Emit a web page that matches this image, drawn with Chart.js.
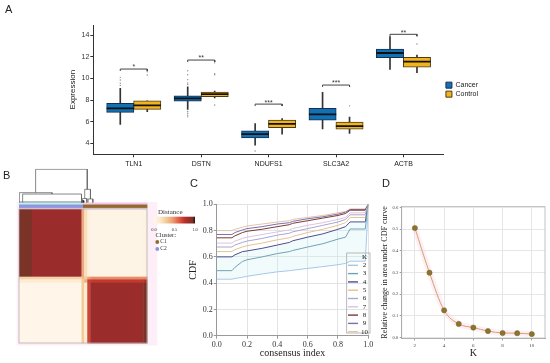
<!DOCTYPE html>
<html><head><meta charset="utf-8">
<script src="https://cdn.jsdelivr.net/npm/chart.js@4.4.1/dist/chart.umd.min.js"></script>
<style>
html,body{margin:0;padding:0;background:#fff;width:550px;height:363px;overflow:hidden;position:relative}
.cv{position:absolute}
.lbl{position:absolute;font-family:'Liberation Sans',Arial,sans-serif;font-size:11px;color:#222;line-height:1}
</style></head><body>
<canvas id="cB" class="cv" style="left:0;top:160px;width:210px;height:190px" width="210" height="190"></canvas>
<canvas id="cA" class="cv" style="left:0;top:0;width:550px;height:175px" width="550" height="175"></canvas>
<canvas id="cC" class="cv" style="left:180px;top:195px;width:195px;height:168px" width="195" height="168"></canvas>
<canvas id="cD" class="cv" style="left:372px;top:195px;width:178px;height:168px" width="178" height="168"></canvas>
<div class="lbl" style="left:5px;top:4px">A</div>
<div class="lbl" style="left:3px;top:170px">B</div>
<div class="lbl" style="left:190px;top:178px">C</div>
<div class="lbl" style="left:382px;top:178px">D</div>
<script>
// ---------- Panel A data ----------
const genes = ['TLN1','DSTN','NDUFS1','SLC3A2','ACTB'];
const cancerLow  = [5.76, 7.15, 3.84, 5.35, 10.85];
const cancerQ1   = [6.87, 7.92, 4.52, 6.16, 11.93];
const cancerMed  = [7.24, 8.17, 4.86, 6.69, 12.36];
const cancerQ3   = [7.70, 8.41, 5.17, 7.24, 12.73];
const cancerHigh = [9.09, 9.24, 5.85, 8.72, 13.87];
const controlLow  = [6.93, 8.20, 4.86, 4.92, 10.54];
const controlQ1   = [7.15, 8.32, 5.45, 5.32, 11.06];
const controlMed  = [7.52, 8.57, 5.82, 5.60, 11.56];
const controlQ3   = [7.95, 8.75, 6.16, 5.97, 11.96];
const controlHigh = [7.95, 8.85, 6.31, 6.44, 12.17];
const cancerOutliers  = [[10.11, 9.86, 9.56, 9.37], [10.72, 10.35, 9.9, 9.6, 9.45, 6.95, 6.8, 6.62, 6.46], [3.31], [], []];
const controlOutliers = [[10.63, 10.33], [11.6, 11.45, 10.45, 10.35, 7.55], [], [7.48], [13.2]];
const sigY = [10.88, 11.71, 7.64, 9.40, 14.09];
const sigLabels = ['*','**','***','***','**'];
const yTicksA = [4, 6, 8, 10, 12, 14];

// ---------- Panel B data ----------
const clusterNames = ['C1','C2'];
const colBreaks = [0, 6, 29.3, 30.5, 32, 33.5, 58.2, 60];
const rowBreaks = [0, 30.3, 31.5, 33, 60];
const heatValues = [
  [0.93, 0.86, 0.42, 0.20, 0.06, 0.03, 0.05],
  [0.25, 0.25, 0.35, 0.30, 0.45, 0.50, 0.50],
  [0.12, 0.12, 0.30, 0.40, 0.70, 0.72, 0.75],
  [0.02, 0.02, 0.30, 0.12, 0.68, 0.86, 0.93]
];
const clusterSplit = 30;
const dendroX1 = [7.8, 0.15, 1.7, 0.15, 30.8, 29.8, 32.4, 29.4, 29.6];
const dendroX2 = [32, 15.5, 29.3, 29.3, 33.5, 31.8, 34.6, 30.2, 30.4];
const dendroH  = [14.9, 4.4, 3.8, 0.25, 5.9, 1.8, 1.6, 0.8, 0.5];
const dendroHL = [4.4, 0, 0, 0, 1.8, 0, 0, 0, 0];
const dendroHR = [5.9, 3.8, 0, 0, 1.6, 0, 0, 0, 0];
const distTicks = [0, 0.5, 1];

// ---------- Panel C data ----------
const cdfX  = [0, 0.1, 0.12, 0.17, 0.2, 0.3, 0.4, 0.48, 0.5, 0.6, 0.7, 0.8, 0.85, 0.88, 0.98, 1.0];
const cdfK2 = [0.43,0.43,0.435,0.445,0.452,0.47,0.486,0.495,0.498,0.512,0.526,0.54,0.55,0.567,0.567,1.0];
const cdfK3 = [0.495,0.495,0.52,0.565,0.578,0.60,0.625,0.64,0.648,0.675,0.70,0.735,0.75,0.812,0.812,1.0];
const cdfK4 = [0.60,0.60,0.615,0.64,0.645,0.665,0.69,0.71,0.722,0.75,0.775,0.81,0.83,0.866,0.866,1.0];
const cdfK5 = [0.64,0.64,0.655,0.675,0.685,0.705,0.73,0.745,0.755,0.785,0.81,0.84,0.86,0.90,0.90,1.0];
const cdfK6 = [0.675,0.675,0.69,0.71,0.72,0.74,0.765,0.78,0.79,0.815,0.84,0.865,0.885,0.92,0.92,1.0];
const cdfK7 = [0.705,0.705,0.72,0.74,0.75,0.77,0.79,0.805,0.815,0.84,0.86,0.885,0.90,0.935,0.935,1.0];
const cdfK8 = [0.745,0.745,0.76,0.785,0.795,0.81,0.83,0.845,0.855,0.875,0.895,0.915,0.93,0.955,0.955,1.0];
const cdfK9 = [0.77,0.77,0.785,0.805,0.815,0.83,0.85,0.86,0.87,0.89,0.905,0.925,0.94,0.96,0.96,1.0];
const cdfK10= [0.80,0.80,0.81,0.825,0.835,0.85,0.865,0.875,0.885,0.90,0.915,0.935,0.945,0.965,0.965,1.0];
const kLabels = ['2','3','4','5','6','7','8','9','10'];

// ---------- Panel D data ----------
const kValues = [2, 3, 4, 5, 6, 7, 8, 9, 10];
const deltaArea = [0.506, 0.299, 0.125, 0.062, 0.045, 0.029, 0.020, 0.019, 0.015];
const yTicksD = [0, 0.1, 0.2, 0.3, 0.4, 0.5, 0.6];
const xTicksD = [2, 4, 6, 8, 10];

// ======================================================
const SANS = "'Liberation Sans', Arial, sans-serif";
const SERIF = "'Liberation Serif', 'Times New Roman', serif";
Chart.defaults.font.family = SANS;

// ---------------- Chart A ----------------
const OFF = 0.2;
const BOXW = 27.3;
const blue = '#1270b5', blueEdge = '#14304e', gold = '#f2b41e', goldEdge = '#4e3c10';
const whisk = [];
genes.forEach((g, i) => {
  whisk.push({x: i + 1 - OFF, y: [cancerLow[i], cancerHigh[i]]});
  whisk.push({x: i + 1 + OFF, y: [controlLow[i], controlHigh[i]]});
});
const outPts = [];
genes.forEach((g, i) => {
  cancerOutliers[i].forEach(v => outPts.push({x: i + 1 - OFF, y: v}));
  controlOutliers[i].forEach(v => outPts.push({x: i + 1 + OFF, y: v}));
});
const medPts = [];
genes.forEach((g, i) => {
  medPts.push({x: i + 1 - OFF, y: cancerMed[i]});
  medPts.push({x: i + 1 + OFF, y: controlMed[i]});
});
const dsA = [
  {type:'bar', label:'Cancer', order:4, grouped:false, barThickness:BOXW, borderSkipped:false,
   backgroundColor:blue, borderColor:blueEdge, borderWidth:1,
   data: genes.map((g,i)=>({x:i+1-OFF, y:[cancerQ1[i], cancerQ3[i]]}))},
  {type:'bar', label:'Control', order:4, grouped:false, barThickness:BOXW, borderSkipped:false,
   backgroundColor:gold, borderColor:goldEdge, borderWidth:1,
   data: genes.map((g,i)=>({x:i+1+OFF, y:[controlQ1[i], controlQ3[i]]}))},
  {type:'bar', label:'whisker', order:6, grouped:false, barThickness:1, borderWidth:0,
   backgroundColor:'#333', data: whisk},
  {type:'scatter', label:'median', order:3, data: medPts, pointStyle:'line',
   pointRadius: BOXW/2, pointBorderWidth:1.8, pointBorderColor:'#111', pointBackgroundColor:'#111'},
  {type:'scatter', label:'outlier', order:2, data: outPts, pointRadius:0.7,
   pointBackgroundColor:'#8a8a8a', pointBorderWidth:0}
];
sigY.forEach((y, i) => {
  dsA.push({type:'scatter', label:'sig', order:1, showLine:true, borderColor:'#444', borderWidth:1,
    pointRadius:0, data:[{x:i+1-OFF,y:y-0.18},{x:i+1-OFF,y:y},{x:i+1+OFF,y:y},{x:i+1+OFF,y:y-0.18}]});
});
const sigPlugin = {
  id:'sig',
  afterDatasetsDraw(chart){
    const {ctx, scales:{x, y}} = chart;
    ctx.save();
    ctx.font = '7px ' + SANS; ctx.fillStyle = '#333';
    ctx.textAlign = 'center'; ctx.textBaseline = 'bottom';
    sigLabels.forEach((s, i) => ctx.fillText(s, x.getPixelForValue(i+1), y.getPixelForValue(sigY[i]) + 2));
    ctx.restore();
  }
};
new Chart(document.getElementById('cA'), {
  type:'bar',
  data:{datasets: dsA},
  plugins:[sigPlugin],
  options:{
    responsive:false, animation:false, devicePixelRatio:1,
    layout:{padding:{left:66, top:25, right:62, bottom:0}},
    plugins:{
      tooltip:{enabled:false},
      legend:{position:'right', align:'center', fullSize:false,
        labels:{filter:(it)=>it.text==='Cancer'||it.text==='Control', boxWidth:6, boxHeight:6, padding:2,
          color:'#222', font:{family:SANS, size:7, lineHeight:1}}}
    },
    scales:{
      x:{type:'linear', min:0.4, max:5.6, offset:false,
        afterFit(s){ s.height = 20.7; },
        afterBuildTicks(s){ s.ticks = genes.map((g,i)=>({value:i+1})); },
        ticks:{autoSkip:false, maxRotation:0, padding:3, color:'#222', font:{family:SANS,size:7},
          callback:(v)=>genes[Math.round(v)-1] || ''},
        grid:{display:true, drawOnChartArea:false, tickLength:3, color:'#333', offset:false},
        border:{display:true, color:'#333', width:1}},
      y:{min:3, max:14.95,
        afterFit(s){ s.width = 27.3; },
        afterBuildTicks(s){ s.ticks = yTicksA.map(v=>({value:v})); },
        ticks:{padding:1, color:'#333', font:{family:SANS,size:7}},
        grid:{display:true, drawOnChartArea:false, tickLength:3, color:'#333'},
        border:{display:true, color:'#333', width:1},
        title:{display:true, text:'Expression', color:'#222', font:{family:SANS,size:8}, padding:{top:2,bottom:2}}}
    }
  }
});

// ---------------- Chart B ----------------
const distStops = [[0,[255,247,236]],[0.15,[252,232,205]],[0.3,[241,204,150]],[0.45,[236,160,120]],
  [0.6,[226,96,70]],[0.75,[185,48,40]],[0.86,[155,44,44]],[0.94,[118,52,38]],[1,[45,12,8]]];
function distColor(v){
  for (let i=1;i<distStops.length;i++){
    if (v <= distStops[i][0]){
      const a = distStops[i-1], b = distStops[i];
      const t = (v - a[0]) / (b[0] - a[0]);
      const c = a[1].map((u,k)=>Math.round(u + (b[1][k]-u)*t));
      return 'rgb(' + c.join(',') + ')';
    }
  }
  return 'rgb(45,12,8)';
}
const clusterColors = {C1:'#93692f', C2:'#8e94de'};
const heatPlugin = {
  id:'heat',
  beforeDatasetsDraw(chart){
    const {ctx, scales:{x:xs, y:ys}} = chart;
    const N = colBreaks[colBreaks.length-1];
    const px = v => xs.getPixelForValue(v), py = v => ys.getPixelForValue(v);
    const rect = (x0,x1,y0,y1,col) => {
      const a = px(x0), b = px(x1), c = py(y0), d = py(y1);
      ctx.fillStyle = col;
      ctx.fillRect(Math.min(a,b), Math.min(c,d), Math.abs(b-a)+0.4, Math.abs(d-c)+0.4);
    };
    ctx.save();
    // pink halo
    rect(-1.1, N + 4.6, -3.1, N + 1, 'rgba(252,222,240,0.5)');
    // annotation bars
    rect(0, clusterSplit, -2.9, -2.0, '#b4f2ee');
    rect(clusterSplit, N, -2.9, -2.0, '#f7c8e6');
    rect(0, clusterSplit, -2.0, -0.5, clusterColors.C2);
    rect(clusterSplit, N, -2.0, -0.5, clusterColors.C1);
    rect(0, N, -0.5, 0, '#f3c6e3');
    // heatmap blocks
    for (let r=0;r<rowBreaks.length-1;r++){
      for (let c=0;c<colBreaks.length-1;c++){
        rect(colBreaks[c], colBreaks[c+1], rowBreaks[r], rowBreaks[r+1], distColor(heatValues[r][c]));
      }
    }
    ctx.strokeStyle = '#b0b0b0'; ctx.lineWidth = 0.8;
    ctx.strokeRect(px(0), py(0), px(N)-px(0), py(rowBreaks[rowBreaks.length-1])-py(0));
    // distance legend
    ctx.fillStyle = '#333'; ctx.textBaseline = 'middle'; ctx.textAlign = 'left';
    ctx.font = '7px ' + SERIF;
    ctx.fillText('Distance', 158, 51.7);
    const gx0 = 154, gx1 = 195, gy = 56.7, gh = 6.8;
    const grad = ctx.createLinearGradient(gx0, 0, gx1, 0);
    distStops.forEach(s => grad.addColorStop(s[0], 'rgb(' + s[1].join(',') + ')'));
    ctx.fillStyle = grad; ctx.fillRect(gx0, gy, gx1-gx0, gh);
    ctx.fillStyle = '#333'; ctx.textAlign = 'center'; ctx.font = '4.5px ' + SERIF;
    distTicks.forEach(t => ctx.fillText(t.toFixed(1), gx0 + t*(gx1-gx0), 69.5));
    ctx.textAlign = 'left'; ctx.font = '6.5px ' + SERIF;
    ctx.fillText('Cluster:', 155.5, 75.7);
    ctx.font = '5.5px ' + SERIF;
    clusterNames.forEach((nm, i) => {
      const yy = 82 + i*7;
      ctx.fillStyle = clusterColors[nm];
      ctx.beginPath(); ctx.arc(157.3, yy, 1.9, 0, Math.PI*2); ctx.fill();
      ctx.fillStyle = '#333'; ctx.fillText(nm, 160.3, yy);
    });
    ctx.restore();
  }
};
const dendroBase = -2.9;
const dsB = dendroX1.map((x1, i) => ({
  label:'node', showLine:true, borderColor: i >= 7 ? '#222' : '#6a6a6a', borderWidth: i >= 7 ? 1.2 : 0.8,
  pointRadius:0,
  data:[{x:x1, y:dendroBase-dendroHL[i]}, {x:x1, y:dendroBase-dendroH[i]},
        {x:dendroX2[i], y:dendroBase-dendroH[i]}, {x:dendroX2[i], y:dendroBase-dendroHR[i]}]
}));
new Chart(document.getElementById('cB'), {
  type:'scatter',
  data:{datasets: dsB},
  plugins:[heatPlugin],
  options:{
    responsive:false, animation:false, devicePixelRatio:1,
    layout:{padding:{left:19, top:8.8, right:63, bottom:7}},
    plugins:{legend:{display:false}, tooltip:{enabled:false}},
    scales:{
      x:{type:'linear', min:0, max:60, display:false},
      y:{type:'linear', min:-18, max:60, reverse:true, display:false}
    }
  }
});

// ---------------- Chart C ----------------
const cdfSeries = [cdfK2, cdfK3, cdfK4, cdfK5, cdfK6, cdfK7, cdfK8, cdfK9, cdfK10];
const cdfColors = ['#a6c8e6','#6fa3b3','#4b4f8f','#e5c38e','#a9a6d6','#dcc3df','#7b3b33','#7e6fae','#e3c4a8'];
const dsC = cdfSeries.map((arr, i) => ({
  label: kLabels[i],
  data: cdfX.map((x, j) => ({x, y: arr[j]})),
  borderColor: cdfColors[i], borderWidth: 1, pointRadius: 0, tension: 0,
  fill: (i === 1 || i === 2) ? '-1' : false,
  backgroundColor: 'rgba(210,242,245,0.28)'
}));
const cdfLegend = {
  id:'cdfLegend',
  afterDatasetsDraw(chart){
    const {ctx, chartArea:ca} = chart;
    const bw = 23.3, bh = 80, bx = ca.right + 1.7 - bw, by = ca.bottom - 2.7 - bh;
    ctx.save();
    ctx.strokeStyle = '#a8a8a8'; ctx.lineWidth = 0.8; ctx.strokeRect(bx, by, bw, bh);
    ctx.font = '7px ' + SERIF; ctx.fillStyle = '#222'; ctx.textBaseline = 'middle'; ctx.textAlign = 'center';
    ctx.fillText('K', bx + bw - 5.5, by + 4.5);
    chart.data.datasets.forEach((ds, i) => {
      const yy = by + 12.3 + i*8.3;
      ctx.strokeStyle = ds.borderColor; ctx.lineWidth = 1.4;
      ctx.beginPath(); ctx.moveTo(bx + 1.3, yy); ctx.lineTo(bx + 11.3, yy); ctx.stroke();
      ctx.fillText(ds.label, bx + bw - 5.5, yy);
    });
    ctx.restore();
  }
};
new Chart(document.getElementById('cC'), {
  type:'line',
  data:{datasets: dsC},
  plugins:[cdfLegend],
  options:{
    responsive:false, animation:false, devicePixelRatio:1,
    layout:{padding:{left:3.3, top:9.3, right:6.7, bottom:0}},
    plugins:{legend:{display:false}, tooltip:{enabled:false}},
    scales:{
      x:{type:'linear', min:0, max:1,
        afterFit(s){ s.height = 27.3; },
        ticks:{stepSize:0.2, maxRotation:0, padding:1, color:'#333', font:{family:SERIF,size:8},
          callback:(v)=>Number(v).toFixed(1)},
        grid:{color:'#e3e3e3', tickLength:3, tickColor:'#999'},
        border:{color:'#999'},
        title:{display:true, text:'consensus index', color:'#222', font:{family:SERIF,size:10}, padding:{top:2,bottom:4}}},
      y:{min:0, max:1,
        afterFit(s){ s.width = 33.4; },
        ticks:{stepSize:0.2, padding:1, color:'#333', font:{family:SERIF,size:8},
          callback:(v)=>Number(v).toFixed(1)},
        grid:{color:'#e3e3e3', tickLength:3, tickColor:'#999'},
        border:{color:'#999'},
        title:{display:true, text:'CDF', color:'#222', font:{family:SERIF,size:10}, padding:{top:4,bottom:2}}}
    }
  }
});

// ---------------- Chart D ----------------
const frameD = {
  id:'frameD',
  afterDraw(chart){
    const {ctx, chartArea:ca} = chart;
    ctx.save(); ctx.strokeStyle = '#b5b5b5'; ctx.lineWidth = 0.8;
    ctx.strokeRect(ca.left, ca.top, ca.right-ca.left, ca.bottom-ca.top); ctx.restore();
  }
};
const ptsD = kValues.map((k, i) => ({x:k, y:deltaArea[i]}));
new Chart(document.getElementById('cD'), {
  type:'line',
  data:{datasets:[
    {label:'glow', order:2, data: ptsD, borderColor:'rgba(250,210,228,0.35)', borderWidth:6,
     pointRadius:0, cubicInterpolationMode:'monotone'},
    {label:'delta', order:1, data: ptsD, borderColor:'#d4a06c', borderWidth:1,
     cubicInterpolationMode:'monotone', pointRadius:2.6, pointBackgroundColor:'#8c7330',
     pointBorderColor:'#7a6228', pointBorderWidth:0.5}
  ]},
  plugins:[frameD],
  options:{
    responsive:false, animation:false, devicePixelRatio:1,
    layout:{padding:{left:3.9, top:11.6, right:5, bottom:0}},
    plugins:{legend:{display:false}, tooltip:{enabled:false}},
    scales:{
      x:{type:'linear', min:1.1, max:10.9,
        afterFit(s){ s.height = 24.6; },
        afterBuildTicks(s){ s.ticks = xTicksD.map(v=>({value:v})); },
        ticks:{maxRotation:0, padding:2, color:'#444', font:{family:SERIF,size:5}},
        grid:{color:'#e6e6e6', tickLength:2, tickColor:'#999'},
        border:{color:'#999'},
        title:{display:true, text:'K', color:'#222', font:{family:SERIF,size:10}, padding:{top:2,bottom:4}}},
      y:{min:-0.005, max:0.605,
        afterFit(s){ s.width = 25.8; },
        afterBuildTicks(s){ s.ticks = yTicksD.map(v=>({value:v})); },
        ticks:{padding:1.5, color:'#444', font:{family:SERIF,size:4.5}, callback:(v)=>Number(v).toFixed(1)},
        grid:{color:'#e6e6e6', tickLength:2, tickColor:'#999'},
        border:{color:'#999'},
        title:{display:true, text:'Relative change in area under CDF curve', color:'#222',
          font:{family:SERIF,size:8}, padding:{top:4,bottom:1}}}
    }
  }
});
</script>
</body></html>
